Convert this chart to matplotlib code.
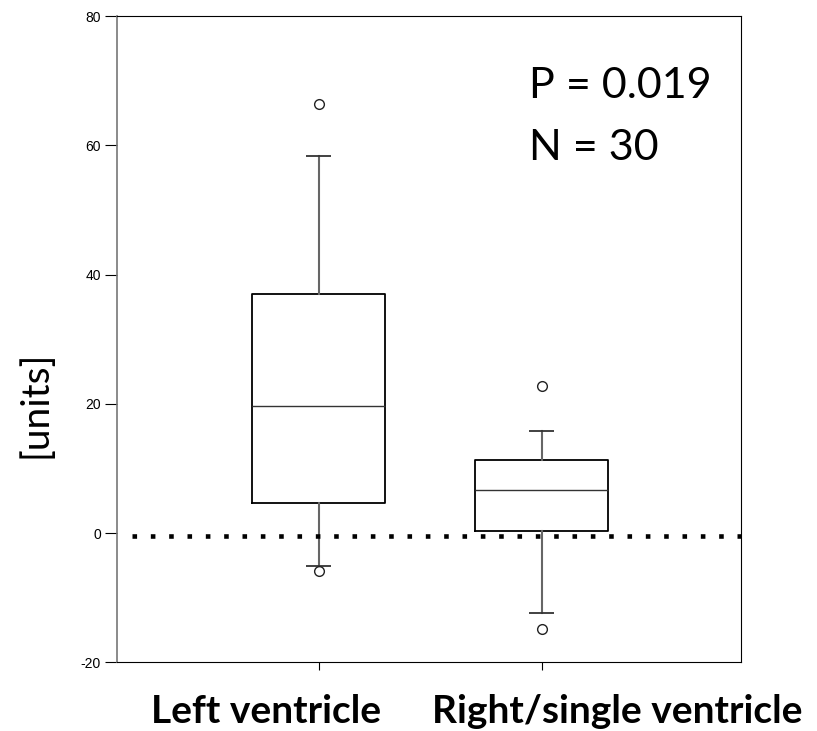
import matplotlib
matplotlib.use("Agg")
import matplotlib.pyplot as plt
import numpy as np

categories = ["Left ventricle", "Right/single ventricle"]
q1 = [4.6, 0.3]
median = [19.7, 6.7]
q3 = [37.0, 11.3]
whislo = [-5.1, -12.4]
whishi = [58.3, 15.8]
fliers = [[66.4, -5.9], [22.8, -14.9]]
ref_line = -0.4
p_text = "P = 0.019"
n_text = "N = 30"
y_ticks = [-20, 0, 20, 40, 60, 80]
y_label = "[units]"

fig = plt.figure(figsize=(8.17, 7.31), dpi=100)
ax = fig.add_axes([0.143, 0.094, 0.764, 0.884])

stats = []
for i, c in enumerate(categories):
    stats.append(dict(label=c, q1=q1[i], med=median[i], q3=q3[i],
                      whislo=whislo[i], whishi=whishi[i], fliers=fliers[i]))
positions = [1, 2]
ax.bxp(stats, positions=positions, widths=0.6,
       boxprops=dict(color="black", linewidth=1.3),
       medianprops=dict(color="#333333", linewidth=1.0),
       whiskerprops=dict(color="#666666", linewidth=1.5),
       capprops=dict(color="#333333", linewidth=1.3, solid_capstyle="butt"),
       flierprops=dict(marker="o", markerfacecolor="white", markeredgecolor="#222222",
                       markersize=7, markeredgewidth=1.0),
       capwidths=0.11, zorder=3)

ax.axhline(ref_line, color="black", linewidth=3.3, linestyle=(0, (1.0, 3.0)),
           dash_capstyle="butt", zorder=4, xmin=0.025)

ax.set_xlim(0.095, 2.895)
ax.set_ylim(-20, 80)
ax.set_yticks(y_ticks)
ax.set_yticklabels([str(t) for t in y_ticks], fontfamily="Liberation Sans", fontsize=10)
ax.set_xticks(positions)
ax.set_xticklabels(["", ""])
ax.tick_params(axis="y", length=8.5, width=0.8, direction="out", pad=3)
ax.tick_params(axis="x", length=6, width=0.8, direction="out")
ax.spines["left"].set_color("#777777")
ax.spines["left"].set_linewidth(1.2)
for s in ["top", "right", "bottom"]:
    ax.spines[s].set_linewidth(0.8)

trans = matplotlib.transforms.blended_transform_factory(ax.transData, fig.transFigure)
ax.text(0.765, 0.026, categories[0], transform=trans, ha="center", va="center",
        fontsize=28, fontweight="bold", fontfamily="Lato")
ax.text(2.34, 0.026, categories[1], transform=trans, ha="center", va="center",
        fontsize=28, fontweight="bold", fontfamily="Lato")

fig.text(0.043, 0.447, y_label, rotation=90, ha="center", va="center",
         fontsize=28, fontfamily="Lato")

ax.text(0.66, 0.892, p_text, transform=ax.transAxes, ha="left", va="center",
        fontsize=31, fontfamily="Lato")
ax.text(0.66, 0.796, n_text, transform=ax.transAxes, ha="left", va="center",
        fontsize=31, fontfamily="Lato")

fig.savefig("out.png", dpi=100)
